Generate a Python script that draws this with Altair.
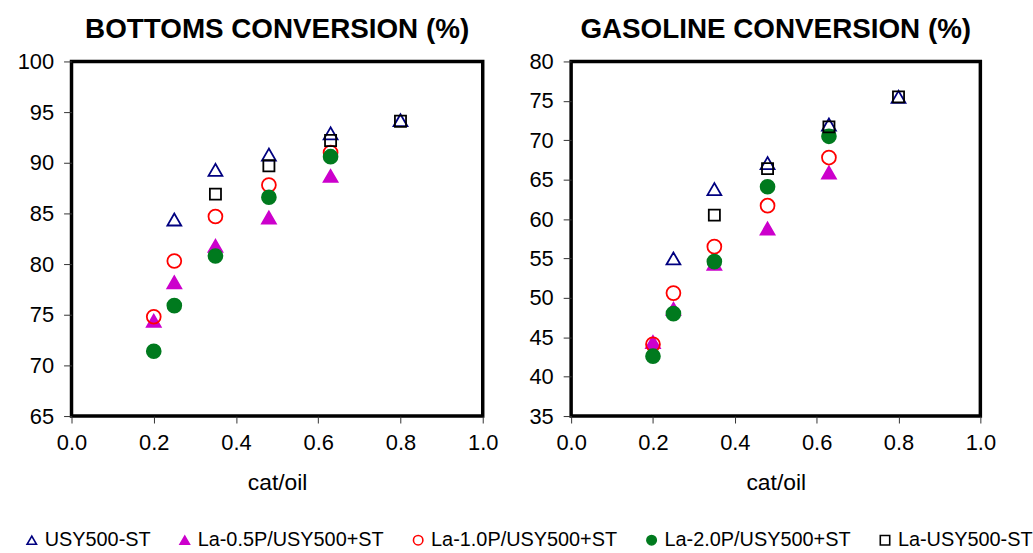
import altair as alt
import pandas as pd

# Catalyst series, in legend / drawing order
series = [
    "USY500-ST",
    "La-0.5P/USY500+ST",
    "La-1.0P/USY500+ST",
    "La-2.0P/USY500+ST",
    "La-USY500-ST",
]

# cat/oil ratios tested for each series
cat_oil = {
    "USY500-ST": [0.25, 0.35, 0.48, 0.63, 0.80],
    "La-0.5P/USY500+ST": [0.20, 0.25, 0.35, 0.48, 0.63],
    "La-1.0P/USY500+ST": [0.20, 0.25, 0.35, 0.48, 0.63],
    "La-2.0P/USY500+ST": [0.20, 0.25, 0.35, 0.48, 0.63],
    "La-USY500-ST": [0.35, 0.48, 0.63, 0.80],
}

# Bottoms conversion (%)
bottoms = {
    "USY500-ST": [84.4, 89.3, 90.8, 92.9, 94.2],
    "La-0.5P/USY500+ST": [74.4, 78.2, 81.8, 84.6, 88.7],
    "La-1.0P/USY500+ST": [74.8, 80.3, 84.7, 87.8, 91.0],
    "La-2.0P/USY500+ST": [71.4, 75.9, 80.8, 86.6, 90.6],
    "La-USY500-ST": [86.9, 89.7, 92.2, 94.1],
}

# Gasoline conversion (%)
gasoline = {
    "USY500-ST": [55.0, 63.8, 67.1, 72.0, 75.5],
    "La-0.5P/USY500+ST": [44.4, 48.6, 54.3, 58.8, 65.9],
    "La-1.0P/USY500+ST": [44.1, 50.6, 56.5, 61.7, 67.8],
    "La-2.0P/USY500+ST": [42.6, 48.0, 54.6, 64.1, 70.5],
    "La-USY500-ST": [60.5, 66.4, 71.7, 75.5],
}

x_ticks = [0.0, 0.2, 0.4, 0.6, 0.8, 1.0]
bottoms_ticks = [65, 70, 75, 80, 85, 90, 95, 100]
gasoline_ticks = [35, 40, 45, 50, 55, 60, 65, 70, 75, 80]

shapes = ["triangle-up", "triangle-up", "circle", "circle", "square"]
strokes = ["#000080", "#CC00CC", "#FF0000", "#007A1E", "#000000"]
fills = ["transparent", "#CC00CC", "transparent", "#007A1E", "transparent"]

rows = []
for s in series:
    for x, b, g in zip(cat_oil[s], bottoms[s], gasoline[s]):
        rows.append({"series": s, "cat_oil": x, "bottoms": b, "gasoline": g})
df = pd.DataFrame(rows)

FONT = "Liberation Sans"

# one shared horizontal legend placed under both panels
legend_common = dict(
    orient="none", legendX=-50, legendY=472, direction="horizontal", title=None
)


def panel(field, title, ticks, width):
    base = alt.Chart(df).encode(
        x=alt.X(
            "cat_oil:Q",
            title="cat/oil",
            scale=alt.Scale(domain=[0, 1], nice=False),
            axis=alt.Axis(
                values=x_ticks, format=".1f", grid=False, domain=False,
                labelPadding=10, titlePadding=18, labelFlush=False,
            ),
        ),
        y=alt.Y(
            f"{field}:Q",
            title=None,
            scale=alt.Scale(domain=[ticks[0], ticks[-1]], nice=False, zero=False),
            axis=alt.Axis(values=ticks, grid=False, domain=False, labelPadding=10, tickSize=8),
        ),
        shape=alt.Shape(
            "series:N",
            scale=alt.Scale(domain=series, range=shapes),
            legend=alt.Legend(**legend_common),
        ),
        stroke=alt.Stroke(
            "series:N",
            scale=alt.Scale(domain=series, range=strokes),
            legend=alt.Legend(**legend_common),
        ),
        fill=alt.Fill(
            "series:N",
            scale=alt.Scale(domain=series, range=fills),
            legend=alt.Legend(**legend_common),
        ),
    )
    # triangles and circles, then the smaller open squares on top
    round_marks = base.transform_filter(
        alt.datum.series != "La-USY500-ST"
    ).mark_point(size=195, strokeWidth=1.8, opacity=1)
    square_marks = base.transform_filter(
        alt.datum.series == "La-USY500-ST"
    ).mark_point(size=125, strokeWidth=1.8, opacity=1)
    return alt.layer(round_marks, square_marks).properties(
        width=width,
        height=357,
        title=alt.Title(title, fontSize=28, fontWeight="bold", font=FONT, offset=7),
    )


left = panel("bottoms", "BOTTOMS CONVERSION (%)", bottoms_ticks, 414)
right = panel("gasoline", "GASOLINE CONVERSION (%)", gasoline_ticks, 412)

chart = (
    alt.hconcat(left, right, spacing=26)
    .resolve_scale(shape="shared", stroke="shared", fill="shared")
    .resolve_legend(shape="shared", stroke="shared", fill="shared")
    .properties(padding={"left": 15, "top": 12, "right": 0, "bottom": 0})
    .configure_view(stroke="black", strokeWidth=3.5)
    .configure_axis(
        labelFont=FONT,
        labelFontSize=22,
        labelColor="black",
        tickColor="#333333",
        tickSize=7,
        titleFont=FONT,
        titleFontSize=23,
        titleFontWeight="normal",
        titleColor="black",
    )
    .configure_legend(
        labelFont=FONT,
        labelFontSize=20,
        labelColor="black",
        labelLimit=400,
        symbolSize=90,
        symbolStrokeWidth=1.6,
        columnPadding=24,
        labelOffset=3,
        padding=0,
    )
    .configure_title(color="black", anchor="middle")
)

chart.save("out.html", embed_options={"renderer": "svg", "actions": False})
